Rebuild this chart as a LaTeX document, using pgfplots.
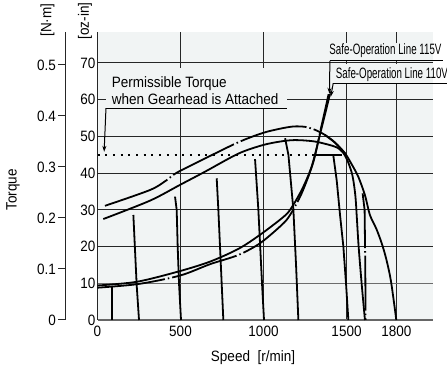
\documentclass[border=0pt]{standalone}
\usepackage{fontspec}
\setmainfont{Liberation Sans}[FakeStretch=0.9]
\newfontfamily\narrowfont{Liberation Sans}[FakeStretch=0.65]
\usepackage{pgfplots}
\pgfplotsset{compat=1.18}
\usetikzlibrary{arrows.meta}

\definecolor{plotbg}{HTML}{F1F4F4}
\definecolor{gridc}{HTML}{262626}

\begin{document}
\begin{tikzpicture}[font=\fontsize{15}{18}\selectfont]
\path[use as bounding box] (0,0) rectangle (447pt,371pt);

% --- N.m scale (outer left) ---
\begin{axis}[
  at={(65.7pt,51pt)}, anchor=south west,
  scale only axis, width=1pt, height=287.5pt,
  xmin=0, xmax=1, ymin=0, ymax=0.5637,
  hide x axis,
  axis y line*=left,
  y axis line style={gridc, line width=1pt},
  ytick={0,0.1,0.2,0.3,0.4,0.5},
  yticklabels={0,0.1,0.2,0.3,0.4,0.5},
  tick align=outside, major tick length=7.3pt,
  major tick style={gridc, line width=1pt},
  yticklabel style={xshift=1pt},
]
\addplot[draw=none] coordinates {(0,0)};
\end{axis}

% --- main axis, oz-in ---
\begin{axis}[
  at={(97.5pt,51pt)}, anchor=south west,
  scale only axis, width=335.5pt, height=287.5pt,
  xmin=0, xmax=2021, ymin=0, ymax=78.3,
  axis background/.style={fill=plotbg},
  axis x line*=bottom, axis y line*=left,
  x axis line style={gray!80!black, line width=1.2pt},
  y axis line style={gridc, line width=1pt},
  xtick={0,500,1000,1500,1800},
  ytick={0,10,20,30,40,50,60,70},
  major tick length=0pt,
  grid=major,
  major grid style={gridc, line width=1pt},
  xticklabel style={yshift=-2pt},
  yticklabel style={xshift=1.5pt},
  /pgf/number format/assume math mode=true,
  /pgf/number format/1000 sep={},
  clip=false,
]
% lighter 10 oz-in line
\draw[gray!85!black, line width=1.3pt] (axis cs:0,10) -- (axis cs:2021,10);

% text boxes hiding the grid
\fill[plotbg] (axis cs:51,57.7) rectangle (axis cs:1142,68.7);
\fill[plotbg] (axis cs:1395,70.6) rectangle (axis cs:2021,75.5);
\fill[plotbg] (axis cs:1420,64.5) rectangle (axis cs:2021,69.6);

% permissible torque annotation
\node[anchor=base west, inner sep=0pt] at (axis cs:85,63.4) {Permissible Torque};
\node[anchor=base west, inner sep=0pt] at (axis cs:85,58.6) {when Gearhead is Attached};
\draw[line width=1pt] (axis cs:51,57.7) -- (axis cs:1142,57.7);
\draw[line width=1pt, -{Stealth[length=6pt,width=4pt]}] (axis cs:51,57.7) -- (axis cs:40,45.8);

% safe-operation labels
\node[anchor=base west, inner sep=0pt, font=\fontsize{15}{18}\narrowfont] at (axis cs:1396,72.4) {Safe-Operation Line 115V};
\draw[line width=1pt] (axis cs:1400,70.6) -- (axis cs:2081,70.6);
\draw[line width=1pt, -{Stealth[length=6pt,width=4pt]}] (axis cs:1400,70.6) -- (axis cs:1397,61.6);
\node[anchor=base west, inner sep=0pt, font=\fontsize{15}{18}\narrowfont] at (axis cs:1435,65.9) {Safe-Operation Line 110V};
\draw[line width=1pt] (axis cs:1420,64.5) -- (axis cs:2110,64.5);
\draw[line width=1pt, -{Stealth[length=6pt,width=4pt]}] (axis cs:1420,64.5) -- (axis cs:1405,60.8);

% permissible torque level
\addplot[black, line width=2pt, dash pattern=on 2pt off 5.7pt] coordinates {(0,45) (1295,45)};
\addplot[black, line width=1.8pt] coordinates {(1295,45) (1470,45)};

% upper curve (dash-dot) and its solid end
\addplot[black, line width=1.8pt, smooth, dash pattern=on 68pt off 3pt on 1.5pt off 3pt] coordinates {
  (45,31.1) (316,35.4) (417,38.1) (477,40.1) (648,44) (848,48.4) (993,50.9)
  (1100,52.1) (1180,52.7) (1250,52.6) (1310,51.8) (1370,50.4) (1431,48.3) (1491,45.4)};
\addplot[black, line width=1.8pt, smooth] coordinates {
  (1370,50.4) (1431,48.3) (1491,45.4) (1530,42.5) (1571,39) (1611,34) (1641,28.6)
  (1680,24.8) (1712,20.9) (1740,16.5) (1768,10.5) (1800,0)};
\addplot[black, line width=1.8pt, dash pattern=on 55pt off 3pt on 1.5pt off 3pt] coordinates {
  (1597,34.5) (1609,30) (1613,15) (1615,0)};

% lower upper curve (solid)
\addplot[black, line width=1.8pt, smooth] coordinates {
  (35,27.5) (316,32.5) (497,36.8) (648,40.4) (848,45.3) (993,47.6) (1100,48.6)
  (1190,49) (1310,48.6) (1431,47.2) (1475,45.8) (1505,43.5) (1535,39.5) (1553,34)
  (1562,28) (1573,20) (1591,10) (1611,0)};

% safe-operation lines
\addplot[black, line width=1.8pt, smooth] coordinates {
  (0,9.4) (236,10.4) (487,13.2) (678,15.9) (850,19.4) (979,23.2) (1110,27.7)
  (1160,30) (1230,35.4) (1290,41.8) (1340,50.5) (1370,55.9) (1400,61.5)};
\addplot[black, line width=1.8pt, smooth, dash pattern=on 68pt off 3pt on 1.5pt off 3pt] coordinates {
  (0,8.8) (246,9.8) (497,12.1) (678,15.2) (848,17.7) (979,20.9) (1110,25.9)
  (1160,28.6) (1230,34.5) (1300,43) (1345,52) (1375,58) (1392,61.5)};

% speed-setting lines
\addplot[black, line width=1.8pt] coordinates {(85,8.9) (85,0)};
\addplot[black, line width=1.8pt] coordinates {(216,28.6) (236,9.5) (250,0)};
\addplot[black, line width=1.8pt] coordinates {(467,33.6) (477,30) (483,20) (491,10) (503,0)};
\addplot[black, line width=1.8pt] coordinates {(718,38.6) (728,30) (738,20) (748,10) (758,0)};
\addplot[black, line width=1.8pt] coordinates {(949,43.8) (969,30) (980,20) (991,10) (1003,0)};
\addplot[black, line width=1.8pt] coordinates {(1130,49.5) (1150,45) (1180,30) (1196,15) (1210,0)};
\addplot[black, line width=1.8pt] coordinates {(1420,45) (1441,38) (1461,28.6) (1481,20) (1497,10) (1511,0)};

% axis titles
\node at (axis description cs:0.4635,-0.132) {Speed\ \ [r/min]};
\node[rotate=90] at (axis description cs:-0.252,0.452) {Torque};
\node[rotate=90] at (axis description cs:-0.149,1.043) {[N·m]};
\node[rotate=90] at (axis description cs:-0.037,1.040) {[oz-in]};
\end{axis}
\end{tikzpicture}
\end{document}
